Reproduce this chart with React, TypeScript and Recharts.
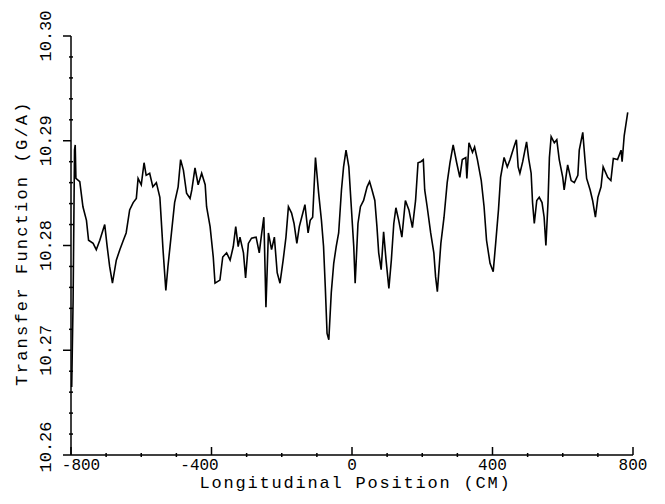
import React from 'react';
import { LineChart, Line, XAxis, YAxis } from 'recharts';

// longitudinal position (cm) and transfer function (G/A)
const positions = [
  -798, -794, -790, -788, -786, -775, -766, -756, -750, -737, -728, -718, -704, -697, -690, -682,
  -671, -661, -652, -643, -633, -623, -614, -609, -600, -592, -586, -576, -567, -557, -547, -543,
  -538, -530, -524, -514, -505, -495, -488, -480, -471, -461, -456, -447, -438, -428, -418, -414,
  -404, -395, -390, -376, -368, -357, -347, -338, -331, -324, -319, -309, -303, -295, -286, -273,
  -264, -257, -251, -245, -238, -229, -221, -213, -205, -196, -188, -181, -172, -165, -157, -150,
  -140, -134, -125, -119, -112, -104, -95, -87, -81, -76, -71, -66, -59, -52, -45, -38,
  -30, -24, -17, -9, -2, 5, 9, 17, 24, 33, 43, 50, 57, 65, 71, 76,
  83, 90, 97, 105, 112, 119, 125, 133, 142, 152, 162, 172, 181, 188, 196, 203,
  207, 214, 224, 233, 238, 243, 253, 262, 271, 279, 288, 298, 307, 314, 324, 327,
  333, 343, 349, 357, 368, 376, 383, 393, 402, 409, 417, 423, 433, 442, 450, 461,
  468, 473, 478, 486, 497, 503, 510, 514, 519, 526, 533, 541, 547, 552, 558, 562,
  567, 576, 583, 590, 600, 604, 614, 624, 633, 643, 647, 657, 663, 668, 678, 685,
  693, 700, 709, 715, 728, 737, 744, 756, 766, 769, 775, 785,
];

const transfer = [
  10.2665, 10.2748, 10.2891, 10.2896, 10.2864, 10.2861, 10.2837, 10.2824, 10.2805, 10.2802, 10.2796, 10.2805, 10.282, 10.2799, 10.278, 10.2764,
  10.2786, 10.2796, 10.2804, 10.2812, 10.2834, 10.2841, 10.2845, 10.2864, 10.2858, 10.2879, 10.2867, 10.2869, 10.2856, 10.286, 10.2846, 10.2824,
  10.2796, 10.2757, 10.278, 10.2812, 10.2841, 10.2856, 10.2882, 10.2872, 10.285, 10.2845, 10.2853, 10.2874, 10.2858, 10.2869, 10.2858, 10.2837,
  10.2818, 10.2789, 10.2764, 10.2767, 10.2789, 10.2793, 10.2786, 10.2799, 10.2818, 10.2799, 10.2808, 10.2793, 10.2769, 10.2802, 10.2807, 10.2808,
  10.2793, 10.2812, 10.2827, 10.2741, 10.2812, 10.2796, 10.2808, 10.2774, 10.2764, 10.2786, 10.2808, 10.2837, 10.2831, 10.2821, 10.2802, 10.2818,
  10.2831, 10.2839, 10.2812, 10.2824, 10.2827, 10.2884, 10.285, 10.2824, 10.2799, 10.276, 10.2716, 10.271, 10.2755, 10.2783, 10.2799, 10.2812,
  10.2853, 10.2875, 10.2891, 10.2875, 10.2837, 10.2799, 10.2764, 10.2821, 10.2837, 10.2843, 10.2856, 10.2861, 10.2853, 10.2843, 10.2818, 10.2793,
  10.2777, 10.2813, 10.2786, 10.2759, 10.2786, 10.2821, 10.2836, 10.2824, 10.2808, 10.2843, 10.2834, 10.2817, 10.2843, 10.2879, 10.288, 10.2882,
  10.2853, 10.2837, 10.2812, 10.2793, 10.277, 10.2756, 10.2802, 10.2827, 10.286, 10.2879, 10.2896, 10.2879, 10.2865, 10.2882, 10.2884, 10.2864,
  10.2898, 10.2889, 10.2894, 10.2882, 10.2862, 10.2837, 10.2805, 10.2783, 10.2775, 10.2802, 10.2834, 10.2865, 10.2884, 10.2875, 10.2882, 10.2894,
  10.2901, 10.2875, 10.2869, 10.288, 10.2899, 10.2883, 10.2869, 10.2841, 10.2821, 10.2843, 10.2846, 10.2841, 10.2827, 10.28, 10.2841, 10.2884,
  10.2904, 10.2898, 10.2901, 10.2882, 10.2865, 10.2853, 10.2877, 10.2862, 10.286, 10.2867, 10.2891, 10.2908, 10.2883, 10.2864, 10.2853, 10.2843,
  10.2827, 10.2846, 10.2856, 10.2875, 10.2865, 10.2862, 10.2883, 10.2882, 10.2891, 10.288, 10.2905, 10.2927,
];

const xTicks = [-800, -700, -600, -500, -400, -300, -200, -100, 0, 100, 200, 300, 400, 500, 600, 700, 800];
const xLabels = [-800, -400, 0, 400, 800];
const yTicks = [10.26, 10.262, 10.264, 10.266, 10.268, 10.27, 10.272, 10.274, 10.276, 10.278, 10.28,
  10.282, 10.284, 10.286, 10.288, 10.29, 10.292, 10.294, 10.296, 10.298, 10.3];
const yLabels = ['10.26', '10.27', '10.28', '10.29', '10.30'];

const data = positions.map((x, i) => ({ x, v: transfer[i] }));

const font = '"Liberation Mono", "DejaVu Sans Mono", monospace';

function XTick(props: any) {
  const { x, y, payload } = props;
  const val = payload.value;
  const major = xLabels.includes(val);
  let dx = 0;
  if (val === -800) dx = 10;
  else if (val < 0) dx = -12;
  return (
    <g>
      {major ? (
        <line x1={x} x2={x} y1={y} y2={y - 8} stroke="#000" strokeWidth={1.5} />
      ) : (
        <line x1={x} x2={x} y1={y - 2} y2={y + 2} stroke="#000" strokeWidth={1.5} />
      )}
      {major && (
        <text x={x + dx} y={y + 15} textAnchor="middle" fontFamily={font} fontSize={16} fill="#000">
          {val}
        </text>
      )}
    </g>
  );
}

function YTick(props: any) {
  const { x, y, payload } = props;
  const lbl = Number(payload.value).toFixed(2);
  const major = Math.abs(payload.value * 100 - Math.round(payload.value * 100)) < 1e-6 && yLabels.includes(lbl);
  const cy = lbl === '10.26' ? y - 8 : y;
  return (
    <g>
      {major ? (
        <line x1={x - 8} x2={x} y1={y} y2={y} stroke="#000" strokeWidth={1.5} />
      ) : (
        <line x1={x - 2} x2={x + 2} y1={y} y2={y} stroke="#000" strokeWidth={1.5} />
      )}
      {major && (
        <text
          x={46}
          y={cy}
          transform={`rotate(-90, 46, ${cy})`}
          textAnchor="middle"
          dominantBaseline="central"
          fontFamily={font}
          fontSize={17}
          fill="#000"
        >
          {lbl}
        </text>
      )}
    </g>
  );
}

export default function App() {
  return (
    <div style={{ position: 'absolute', left: 0, top: 0, width: 665, height: 504, background: '#fff' }}>
      <LineChart width={665} height={504} data={data} margin={{ top: 36, right: 32, bottom: 9, left: 11 }}>
        <XAxis
          dataKey="x"
          type="number"
          domain={[-800, 800]}
          ticks={xTicks}
          interval={0}
          height={40}
          tickSize={0}
          tickMargin={0}
          tickLine={false}
          axisLine={{ stroke: '#000', strokeWidth: 1.5 }}
          tick={<XTick />}
        />
        <YAxis
          type="number"
          domain={[10.26, 10.3]}
          ticks={yTicks}
          interval={0}
          width={60}
          tickSize={0}
          tickMargin={0}
          tickLine={false}
          axisLine={{ stroke: '#000', strokeWidth: 1.5 }}
          tick={<YTick />}
        />
        <Line
          dataKey="v"
          type="linear"
          stroke="#000"
          strokeWidth={1.6}
          dot={false}
          isAnimationActive={false}
        />
      </LineChart>
      <div
        style={{
          position: 'absolute', left: 0, width: 665, top: 475, lineHeight: '17px', textAlign: 'center',
          fontFamily: font, fontSize: 17, letterSpacing: 1.8, color: '#000', paddingLeft: 46, boxSizing: 'border-box',
        }}
      >
        Longitudinal Position (CM)
      </div>
      <div
        style={{
          position: 'absolute', left: 22, top: 243, transform: 'translate(-50%, -50%) rotate(-90deg)',
          whiteSpace: 'nowrap', fontFamily: font, fontSize: 17, lineHeight: '17px', letterSpacing: 2.2, color: '#000',
        }}
      >
        Transfer Function (G/A)
      </div>
    </div>
  );
}
